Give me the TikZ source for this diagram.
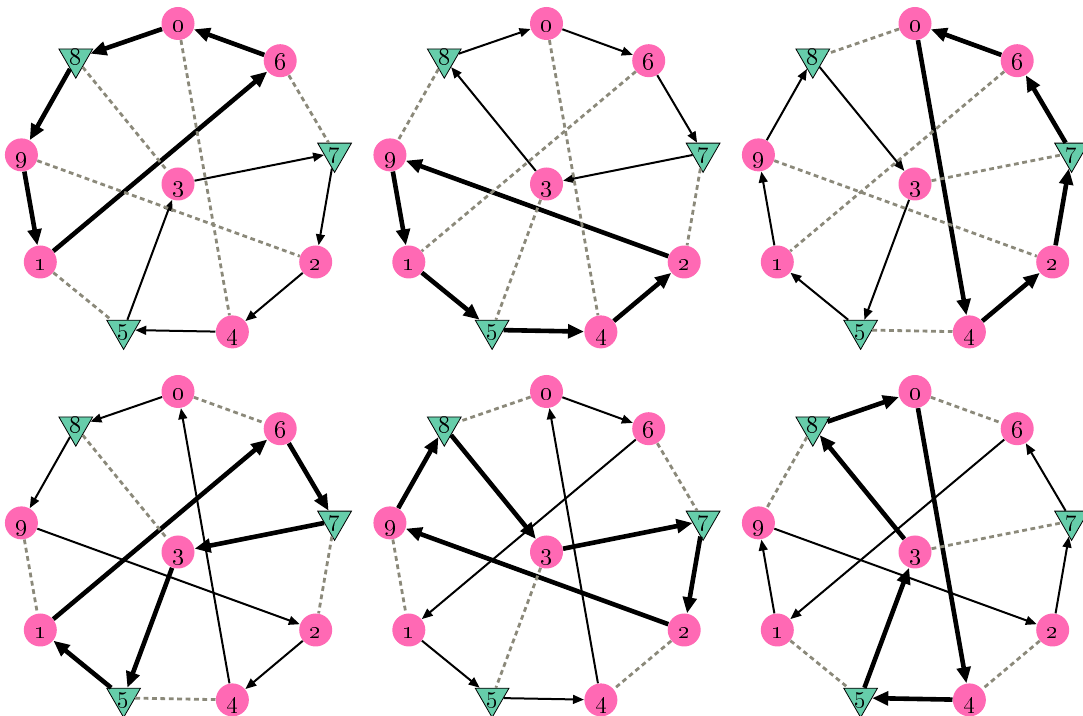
\documentclass[tikz,border=0pt]{standalone}
\usepackage{tikz}
\usetikzlibrary{arrows.meta,shapes.geometric}
\definecolor{nodepink}{RGB}{255,105,180}
\definecolor{gatemint}{RGB}{102,205,170}
\definecolor{dotgray}{RGB}{139,137,122}

\begin{document}
\begin{tikzpicture}[x=0.5pt,y=-0.5pt,every node/.style={font=\fontsize{12.5}{14}\selectfont},
  vtx/.style={circle,fill=nodepink,minimum size=16.5pt,inner sep=0pt,text height=8.5pt,text depth=0pt},
  gate/.style={regular polygon,regular polygon sides=3,shape border rotate=180,draw=black,line width=0.4pt,
    fill=gatemint,minimum size=19.5pt,inner sep=0pt,text height=5.8pt,text depth=0pt,yshift=1pt},
  thk/.style={line width=2.3pt,-{Triangle[length=8pt,width=6.8pt]}},
  thn/.style={line width=1pt,-{Triangle[length=5.5pt,width=4.4pt]}},
  dotted edge/.style={dotgray,line width=1.4pt,dash pattern=on 2.4pt off 1.8pt}]
  \useasboundingbox (0,0) rectangle (1083,716);
  % six copies of the same ring, 3 in the middle
  \foreach \p/\cx/\cy in {a/178/182.5,b/546.5/182.5,c/915/182.5,d/178/550.5,e/546.5/550.5,f/915/550.5}{
    \begin{scope}[shift={(\cx,\cy)}]
      \foreach \n/\ang/\kind in {0/-90/vtx,6/-50/vtx,7/-10/gate,2/30/vtx,4/70/vtx,5/110/gate,1/150/vtx,9/190/vtx,8/230/gate}
        \node[\kind] (\p\n) at (\ang:159) {\oldstylenums{\n}};
      \node[vtx] (\p3) at (0,1.5) {\oldstylenums{3}};
    \end{scope}
  }
  \foreach \s/\t in {a3/a7,a7/a2,a2/a4,a4/a5,a5/a3, b8/b0,b0/b6,b6/b7,b7/b3,b3/b8, c1/c9,c9/c8,c8/c3,c3/c5,c5/c1,
    d0/d8,d8/d9,d9/d2,d2/d4,d4/d0, e0/e6,e6/e1,e1/e5,e5/e4,e4/e0, f1/f9,f9/f2,f2/f7,f7/f6,f6/f1}
    \draw[thn] (\s) -- (\t);
  \foreach \s/\t in {a6/a0,a0/a8,a8/a9,a9/a1,a1/a6, b9/b1,b1/b5,b5/b4,b4/b2,b2/b9, c6/c0,c0/c4,c4/c2,c2/c7,c7/c6,
    d1/d6,d6/d7,d7/d3,d3/d5,d5/d1, e9/e8,e8/e3,e3/e7,e7/e2,e2/e9, f8/f0,f0/f4,f4/f5,f5/f3,f3/f8}
    \draw[thk] (\s) -- (\t);
  \foreach \s/\t in {a0/a4,a8/a3,a6/a7,a9/a2,a1/a5, b0/b4,b6/b1,b8/b9,b3/b5,b7/b2, c0/c8,c6/c1,c3/c7,c9/c2,c5/c4,
    d0/d6,d8/d3,d9/d1,d7/d2,d5/d4, e0/e8,e6/e7,e9/e1,e3/e5,e2/e4, f0/f6,f8/f9,f3/f7,f1/f5,f2/f4}
    \draw[dotted edge] (\s) -- (\t);
\end{tikzpicture}
\end{document}
